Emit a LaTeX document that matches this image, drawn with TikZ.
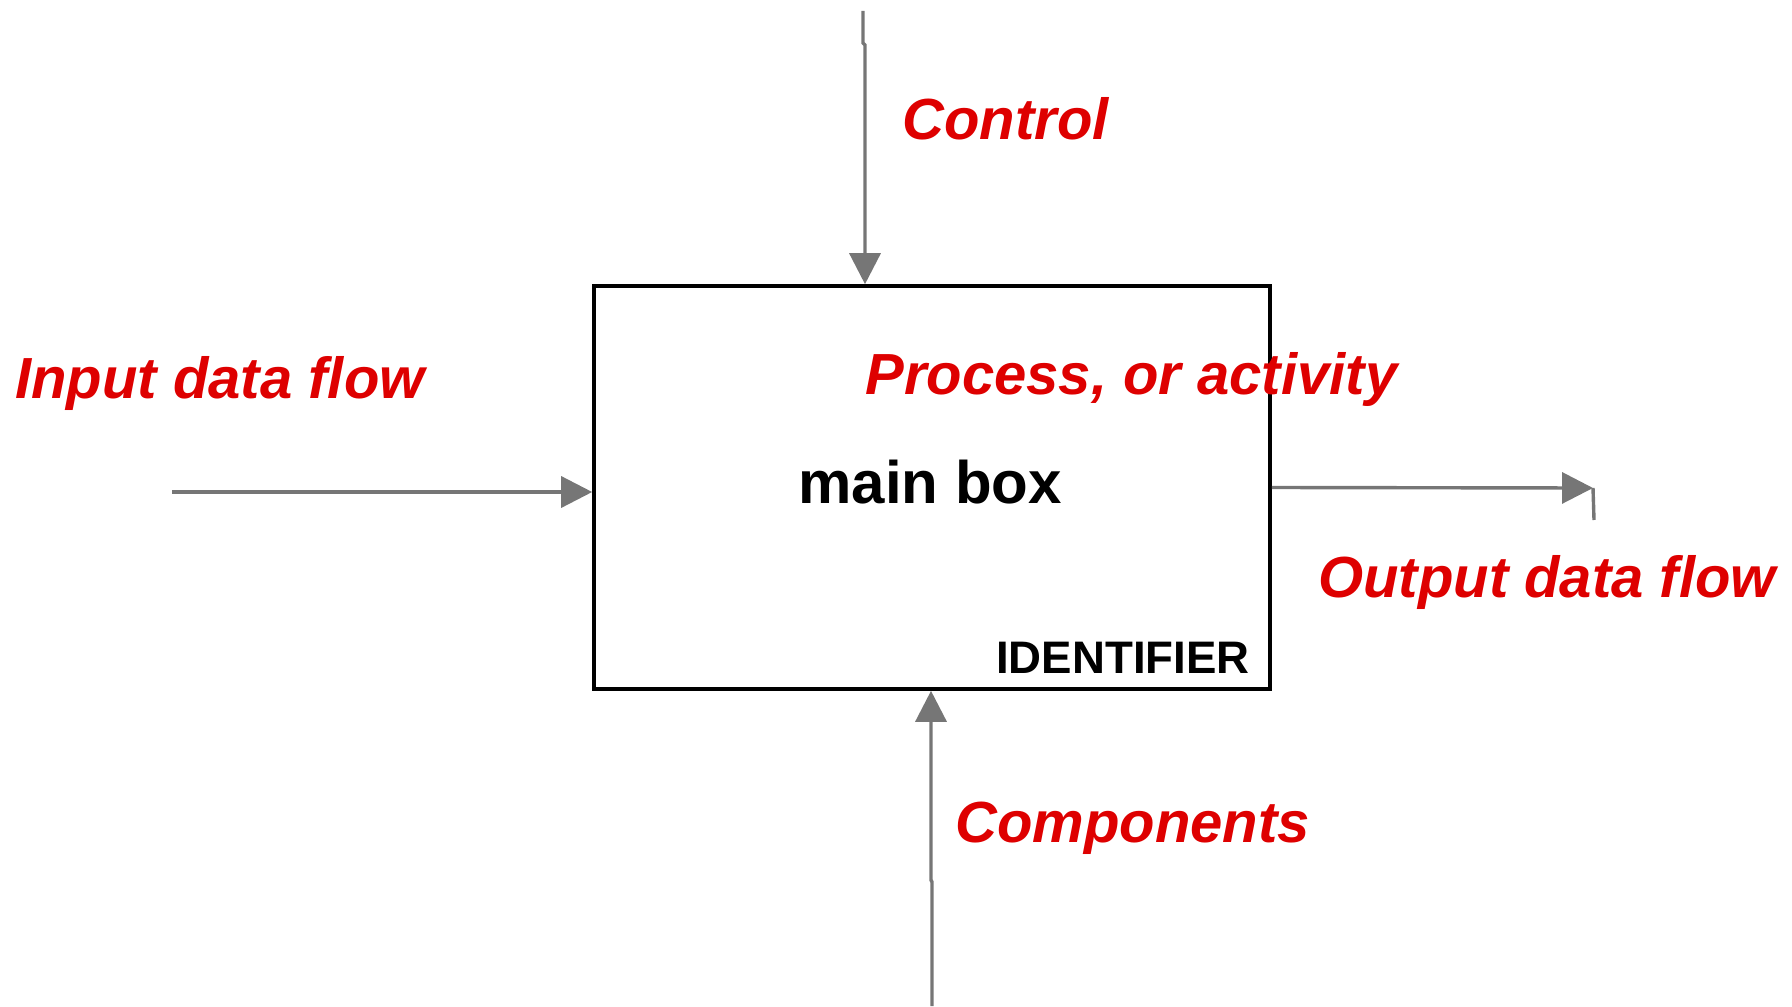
\documentclass[tikz,border=0pt]{standalone}
\usepackage{fontspec}
\setmainfont{Liberation Sans}
\usetikzlibrary{arrows.meta}
\definecolor{lblred}{RGB}{222,0,0}
\definecolor{flowgray}{RGB}{118,118,118}
\tikzset{
  flowline/.style={draw=flowgray, line width=1.7pt},
  flowarrow/.style={flowline, -{Triangle[length=15.5pt,width=15.5pt]}},
  redlabel/.style={text=lblred, font=\fontsize{29pt}{33pt}\selectfont\bfseries\itshape, inner sep=0pt, anchor=base west},
  mainbox/.style={draw=black, line width=1.8pt, minimum width=338pt, minimum height=201.5pt, inner sep=0pt},
}
\begin{document}
\begin{tikzpicture}[x=0.5pt,y=-0.5pt]
\useasboundingbox (0,0) rectangle (1792,1006);
\node[mainbox] (box) at (932,487.5) {};
% texts
\node[inner sep=0pt, anchor=base west, font=\fontsize{30pt}{34pt}\selectfont\bfseries] (mainlbl) at (798,503) {main box};
\node[inner sep=0pt, anchor=base east, font=\fontsize{22.8pt}{26pt}\selectfont\bfseries] (ident) at (1250,673) {IDENTIFIER};
\node[redlabel] (ctllbl) at (902,140) {Control};
\node[redlabel] (inlbl) at (15,398) {Input data flow};
\node[redlabel] (proclbl) at (865,394) {Process, or activity};
\node[redlabel] (outlbl) at (1318,597) {Output data flow};
\node[redlabel] (cmplbl) at (955,842) {Components};
% connectors
\coordinate (inS) at (172,492);
\draw[flowarrow] (inS) -- (inS -| box.west);
\coordinate (outE) at (1593,488);
\coordinate (outT) at (1594,520);
\draw[flowarrow] (box.east) -- (outE);
\draw[flowline] (outE) -- (outT);
\coordinate (ctlS) at (863,11);
\coordinate (ctlJ) at (865,45);
\draw[flowarrow] (ctlS) -- (863,43) -- (ctlJ) -- (ctlJ |- box.north);
\coordinate (cmpS) at (932,1006);
\coordinate (cmpJ) at (931,880);
\draw[flowarrow] (cmpS) -- (932,882) -- (cmpJ) -- (cmpJ |- box.south);
\end{tikzpicture}
\end{document}
